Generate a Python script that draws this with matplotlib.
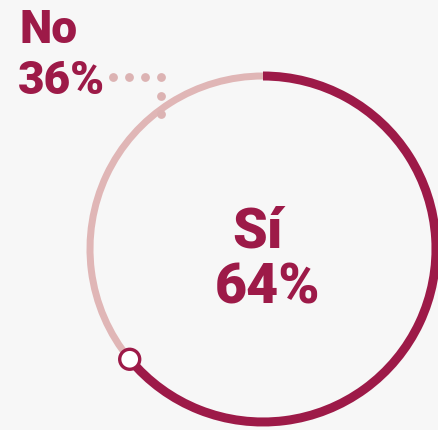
import matplotlib
matplotlib.use("Agg")
import matplotlib.pyplot as plt
from matplotlib.patches import Circle
import numpy as np

# Data
labels = ["Sí", "No"]
values = [64, 36]
colors = ["#9d1a48", "#e0b6b6"]

W, H = 438, 430
bg = "#f7f7f7"
fig = plt.figure(figsize=(W / 100, H / 100), dpi=100, facecolor=bg)
ax = fig.add_axes([0, 0, 1, 1])
ax.set_facecolor(bg)

cx, cy, R = 263, 181, 173
widths = [9, 7]

wedges, _ = ax.pie(values, colors=colors, startangle=90, counterclock=False,
                   center=(cx, cy), radius=R + 4.5, frame=True,
                   wedgeprops=dict(width=9, linewidth=0))
for w, wd in zip(wedges, widths):
    w.set_radius(R + wd / 2)
    w.set_width(wd)

# Marker at end of "Sí" arc
frac = values[0] / sum(values)
ang = np.deg2rad(90 - 360 * frac)
mx, my = cx + R * np.cos(ang), cy + R * np.sin(ang)
ax.add_patch(Circle((mx, my), 10, facecolor="white", edgecolor=colors[0],
                    linewidth=2.4, zorder=5))

# Dotted leader
dot_x = [113, 129, 145, 161, 161, 161]
dot_y = [430 - 77, 430 - 77, 430 - 77, 430 - 77, 430 - 96, 430 - 114]
ax.scatter(dot_x, dot_y, s=40, color="#dcb3b3", linewidths=0, zorder=4)

font = "Roboto"
ax.text(19, 387, labels[1], fontsize=33, fontweight=900, color=colors[0],
        family=font, ha="left", va="baseline")
ax.text(18, 336, f"{values[1]}%", fontsize=33, fontweight=900,
        color=colors[0], family=font, ha="left", va="baseline")
ax.text(258, 182, labels[0], fontsize=40, fontweight=900, color=colors[0],
        family=font, ha="center", va="baseline")
ax.text(268, 127, f"{values[0]}%", fontsize=40, fontweight=900,
        color=colors[0], family=font, ha="center", va="baseline")

ax.set_xlim(0, W)
ax.set_ylim(0, H)
ax.set_aspect("auto")
ax.axis("off")

fig.savefig("out.png", dpi=100, facecolor=bg)
